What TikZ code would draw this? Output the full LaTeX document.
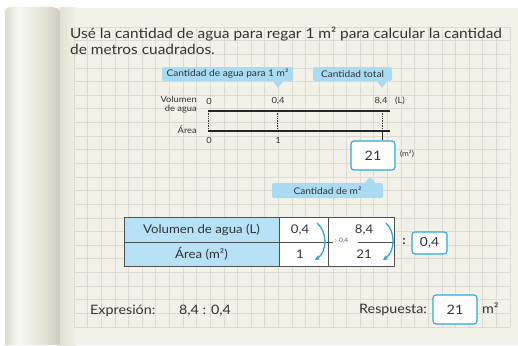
\documentclass[tikz,border=0pt]{standalone}
\usepackage{fontspec}
\setmainfont{Lato}[FakeStretch=1.1]
\usetikzlibrary{arrows.meta}
\definecolor{pagec}{HTML}{F3F2E8}
\definecolor{gridc}{HTML}{DCDBD4}
\definecolor{calc}{HTML}{A9DBF3}
\definecolor{tabc}{HTML}{B6E1F7}
\definecolor{boxc}{HTML}{2AA8E0}
\definecolor{txt}{HTML}{333333}
\definecolor{tabline}{HTML}{505050}
\definecolor{ca}{HTML}{DCDBD0}
\definecolor{cb}{HTML}{F8F8F3}
\definecolor{cc}{HTML}{E2E1D5}
\definecolor{cd}{HTML}{CBCABB}
\pgfdeclarehorizontalshading{curlsh}{100bp}{color(0bp)=(ca); color(25bp)=(ca); color(37bp)=(cb); color(62bp)=(cc); color(75bp)=(cd); color(100bp)=(cd)}
\pgfdeclarehorizontalshading{shadsh}{100bp}{color(0bp)=(cc); color(25bp)=(cc); color(75bp)=(pagec); color(100bp)=(pagec)}
\tikzset{
 ttl/.style={font=\fontsize{14}{16}\selectfont, text=txt, inner sep=0pt},
 small/.style={font=\fontsize{8.5}{9.5}\selectfont, text=txt, inner sep=0pt},
 callt/.style={fill=calc, rounded corners=2pt, minimum height=14pt, inner sep=0pt, font=\fontsize{9.2}{9.5}\selectfont, text=txt},
 ansbox/.style={draw=boxc, line width=1.1pt, fill=white, rounded corners=3pt, inner sep=0pt, text=txt},
 tabt/.style={font=\fontsize{12}{12.5}\selectfont, text=txt, inner sep=0pt},
 bott/.style={font=\fontsize{13}{13.5}\selectfont, text=txt, inner sep=0pt},
 barline/.style={line width=2.8pt, draw=black!85},
 dotl/.style={densely dotted, line width=0.7pt, draw=black!80},
 curv/.style={draw=boxc, line width=1.3pt, -{Stealth[length=5pt,width=5pt]}},
 gridl/.style={draw=gridc, line width=0.75pt},
}
\begin{document}
\begin{tikzpicture}[x=1pt,y=-1pt]
\useasboundingbox (0,0) rectangle (518,345);
% page
\fill[white] (0,0) rectangle (518,345);
\fill[pagec] (58,8) rectangle (518,345);
\shade[shading=shadsh] (60,8) rectangle (76,345);
\shade[shading=curlsh] (5,345) -- (5,12) .. controls (5,8) and (8,7) .. (12,7) -- (50,7) .. controls (56,7) and (60,9) .. (60,13) -- (60,345) -- cycle;
% grid
\foreach \i in {0,...,32} \draw[gridl] ({74+13.625*\i},27) -- ({74+13.625*\i},327);
\foreach \j in {0,...,22} \draw[gridl] (74,{27+13.636*\j}) -- (510,{27+13.636*\j});
% title
\node[ttl, anchor=base west] (t1) at (70,38.5) {Usé la cantidad de agua para regar 1 m² para calcular la cantidad};
\node[ttl, anchor=base west] (t2) at (70,55) {de metros cuadrados.};
% callouts top
\node[callt, minimum width=131pt] (c1) at (227.5,74) {Cantidad de agua para 1 m²};
\fill[calc] (272,80) -- (284,80) -- (278,88) -- cycle;
\node[callt, minimum width=79pt] (c2) at (352.5,74) {Cantidad total};
\fill[calc] (376,80) -- (388,80) -- (382,88) -- cycle;
% number line
\coordinate (a0) at (208,111); \coordinate (a1) at (277,111); \coordinate (a2) at (382,111); \coordinate (aE) at (390,111);
\coordinate (b0) at (208,131); \coordinate (b1) at (277,131); \coordinate (b2) at (382,131); \coordinate (bE) at (390,131);
\node[small, anchor=east, align=right] (vol) at (197,104.5) {Volumen\\de agua};
\node[small, anchor=east] (area) at (197,130) {Área};
\node[small] (l0) at (209,101) {0};
\node[small] (l1) at (278,101) {0,4};
\node[small] (l2) at (381,101) {8,4};
\node[small] (lL) at (400,101) {(L)};
\node[small] (m0) at (209,140.5) {0};
\node[small] (m1) at (278,140.5) {1};
\draw[dotl] (a0) -- (b0);
\draw[dotl] (a1) -- (b1);
\draw[dotl] (a2) -- (b2);
\draw[barline] (a0) -- (aE);
\draw[barline] (b0) -- (bE);
\node[ansbox, minimum width=44pt, minimum height=29pt, font=\fontsize{13}{14}\selectfont] (r1) at (373,155.5) {21};
\draw[line width=0.8pt, black!85] (b2) -- (b2 |- r1.north);
\node[small, font=\fontsize{7.5}{8}\selectfont] (um) at (407,154) {(m²)};
\node[callt, minimum width=111pt, minimum height=15pt] (c3) at (327.5,190.5) {Cantidad de m²};
\fill[calc] (364,183.5) -- (376,183.5) -- (370,177) -- cycle;
% table
\fill[tabc] (124,217) rectangle (279,266);
\fill[white] (279,217) rectangle (394,266);
\draw[tabline, line width=0.9pt] (124,242) -- (394,242);
\fill[white] (333,239) rectangle (358,245);
\node[inner sep=0pt, font=\fontsize{6}{6}\selectfont, text=txt!80, anchor=west] (d1) at (335,241) {: 0,4};
\draw[tabline, line width=1pt] (124,217) rectangle (394,266);
\draw[tabline, line width=1pt] (279,217) -- (279,266);
\draw[tabline, line width=1pt] (328,217) -- (328,266);
\node[tabt] (h1) at (201.5,229.5) {Volumen de agua (L)};
\node[tabt] (h2) at (201.5,254) {Área (m²)};
\node[tabt] (v1) at (300,229.5) {0,4};
\node[tabt] (v2) at (300,254) {1};
\node[tabt] (v3) at (364,229.5) {8,4};
\node[tabt] (v4) at (364,254) {21};
\draw[curv] (317,223) .. controls (327,231) and (328,251) .. (315,260);
\draw[curv] (386,223) .. controls (395,231) and (396,251) .. (383,260);
\node[tabt, font=\bfseries\fontsize{12}{12}\selectfont] (col) at (404,242) {:};
\node[ansbox, minimum width=35pt, minimum height=22pt, font=\fontsize{12.5}{13}\selectfont] (r2) at (429.5,243) {0,4};
% bottom
\node[bott, anchor=base west] (ex) at (90,314) {Expresión:};
\node[bott, anchor=base west] (exv) at (179,314) {8,4 : 0,4};
\node[bott, anchor=base west] (rs) at (359,313) {Respuesta:};
\node[ansbox, minimum width=44pt, minimum height=29pt, font=\fontsize{13}{14}\selectfont] (r3) at (455,309.5) {21};
\node[bott, anchor=base west] (m2) at (482,313) {m²};
\end{tikzpicture}
\end{document}
